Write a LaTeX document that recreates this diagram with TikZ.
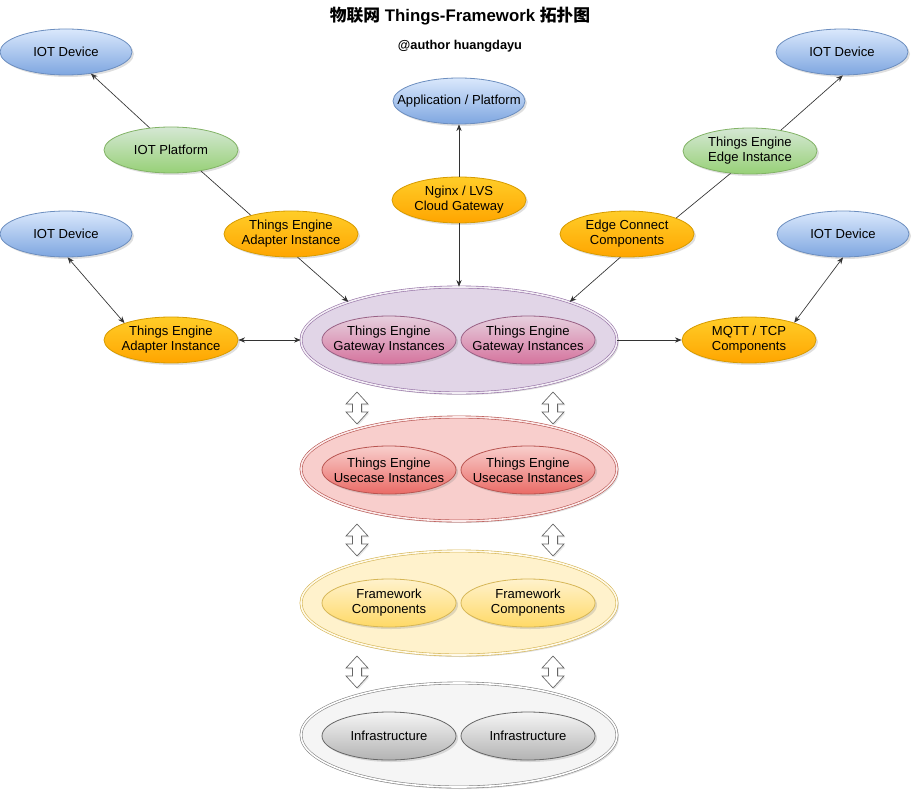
\documentclass[tikz,border=0pt]{standalone}
\usepackage{fontspec}
\setmainfont{Liberation Sans}
\newfontfamily\cjkfont{Noto Sans CJK SC}
\usetikzlibrary{
  shapes.geometric,
  arrows.meta,
  shadows
}
\definecolor{devtop}{RGB}{218,232,252}
\definecolor{devbot}{RGB}{126,166,224}
\definecolor{devline}{RGB}{108,142,191}
\definecolor{grntop}{RGB}{213,232,212}
\definecolor{grnbot}{RGB}{151,208,119}
\definecolor{grnline}{RGB}{130,179,102}
\definecolor{orgtop}{RGB}{255,205,40}
\definecolor{orgbot}{RGB}{255,165,0}
\definecolor{orgline}{RGB}{215,155,0}
\definecolor{purfill}{RGB}{225,213,231}
\definecolor{purline}{RGB}{150,115,166}
\definecolor{pnktop}{RGB}{230,208,222}
\definecolor{pnkbot}{RGB}{213,115,157}
\definecolor{pnkline}{RGB}{153,97,133}
\definecolor{redfill}{RGB}{248,206,204}
\definecolor{redbot}{RGB}{234,107,102}
\definecolor{redline}{RGB}{184,84,80}
\definecolor{ylwfill}{RGB}{255,242,204}
\definecolor{ylwbot}{RGB}{255,217,102}
\definecolor{ylwline}{RGB}{214,182,86}
\definecolor{gryfill}{RGB}{245,245,245}
\definecolor{grybot}{RGB}{179,179,179}
\definecolor{gryline}{RGB}{102,102,102}
\tikzset{
  oval/.style={
    ellipse, draw, line width=0.6pt, inner xsep=-12pt, inner ysep=0pt,
    align=center, font=\fontsize{9.8}{11.3}\selectfont,
    drop shadow={shadow xshift=1.5pt, shadow yshift=-1.5pt, opacity=0.25}
  },
  devbox/.style={
    oval, draw=devline, top color=devtop, bottom color=devbot,
    minimum width=99pt, minimum height=34.5pt
  },
  platbox/.style={
    oval, draw=grnline, top color=grntop, bottom color=grnbot,
    minimum width=100.5pt, minimum height=34.5pt
  },
  compbox/.style={
    oval, draw=orgline, top color=orgtop, bottom color=orgbot,
    minimum width=100.5pt, minimum height=34.5pt
  },
  layer/.style={
    oval, line width=0.45pt, double distance=1.2pt,
    minimum width=237pt, minimum height=78pt
  },
  layerP/.style={layer, draw=purline, fill=purfill, double=purfill!40},
  layerR/.style={layer, draw=redline, fill=redfill, double=redfill!40},
  layerY/.style={layer, draw=ylwline, fill=ylwfill, double=ylwfill!40},
  layerG/.style={layer, draw=gryline!80, fill=gryfill, double=white},
  inst/.style={oval, minimum width=100.5pt, minimum height=36pt},
  instP/.style={inst, draw=pnkline, top color=pnktop, bottom color=pnkbot},
  instR/.style={inst, draw=redline, top color=redfill, bottom color=redbot},
  instY/.style={inst, draw=ylwline, top color=ylwfill, bottom color=ylwbot},
  instG/.style={inst, draw=gryline, top color=gryfill, bottom color=grybot},
  line/.style={line width=0.5pt, color=black!80},
  arrow/.style={line, -{Stealth[length=5pt, width=4pt]}},
  biarrow/.style={line, {Stealth[length=5pt, width=4pt]}-{Stealth[length=5pt, width=4pt]}},
  updown/.pic={
    \draw[gray!80!black, line width=0.5pt, fill=white,
      drop shadow={shadow xshift=1pt, shadow yshift=-1pt, opacity=0.2}]
      (0,-16) -- (11,-4) -- (4.5,-4) -- (4.5,4) -- (11,4) -- (0,16)
      -- (-11,4) -- (-4.5,4) -- (-4.5,-4) -- (-11,-4) -- cycle;
  }
}

\begin{document}
\begin{tikzpicture}[x=0.75pt, y=-0.75pt]
  \useasboundingbox (0,0) rectangle (919,798);

  % Title
  \node (title) at (460,16)
    {\bfseries\fontsize{12.6}{14}\selectfont{\cjkfont 物联网} Things-Framework {\cjkfont 拓扑图}};
  \node (author) at (460,46) {\bfseries\fontsize{9.6}{11}\selectfont @author huangdayu};

  % Left side
  \node[devbox] (devTL) at (66,52) {IOT Device};
  \node[platbox] (plat) at (171,150) {IOT Platform};
  \node[devbox] (devL) at (66,234) {IOT Device};
  \node[compbox] (adpA) at (291,234) {Things Engine\\Adapter Instance};
  \node[compbox] (adpB) at (171,340) {Things Engine\\Adapter Instance};

  % Middle
  \node[devbox] (app) at (459,101) {Application / Platform};
  \node[compbox] (ngx) at (459,200) {Nginx / LVS\\Cloud Gateway};

  % Right side
  \node[devbox] (devTR) at (842,52) {IOT Device};
  \node[platbox] (edi) at (750,151) {Things Engine\\Edge Instance};
  \node[compbox] (edc) at (627,234) {Edge Connect\\Components};
  \node[devbox] (devR) at (843,234) {IOT Device};
  \node[compbox] (mqtt) at (749,340) {MQTT / TCP\\Components};

  % Layers
  \node[layerP, minimum height=79.5pt] (gw) at (459,340) {};
  \node[instP] (gwA) at (389,340) {Things Engine\\Gateway Instances};
  \node[instP] (gwB) at (528,340) {Things Engine\\Gateway Instances};

  \node[layerR] (uc) at (459,469) {};
  \node[instR] (ucA) at (389,470) {Things Engine\\Usecase Instances};
  \node[instR] (ucB) at (528,470) {Things Engine\\Usecase Instances};

  \node[layerY] (fw) at (459,603) {};
  \node[instY] (fwA) at (389,603) {Framework\\Components};
  \node[instY] (fwB) at (528,603) {Framework\\Components};

  \node[layerG] (inf) at (459,735) {};
  \node[instG] (infA) at (389,736) {Infrastructure};
  \node[instG] (infB) at (528,736) {Infrastructure};

  \foreach \xx in {357,553}
    \foreach \yy in {408,540,672}
      \pic at (\xx,\yy) {updown};

  % Connectors
  \draw[arrow] (plat.134) -- (devTL.-41);
  \draw[line] (plat.-35) -- (adpA.155);
  \draw[arrow] (adpA.-74) -- (gw.161);
  \draw[arrow] (ngx.north) -- (app.south);
  \draw[arrow] (ngx.south) -- (gw.north);
  \draw[line] (edi.-131) -- (edc.18);
  \draw[arrow] (edc.-106) -- (gw.19);
  \draw[arrow] (edi.34) -- (devTR.-88);
  \draw[biarrow] (devL.-86) -- (adpB.160);
  \draw[biarrow] (adpB.east) -- (gw.west);
  \draw[arrow] (gw.east) -- (mqtt.west);
  \draw[biarrow] (mqtt.21) -- (devR.-90);
\end{tikzpicture}
\end{document}
